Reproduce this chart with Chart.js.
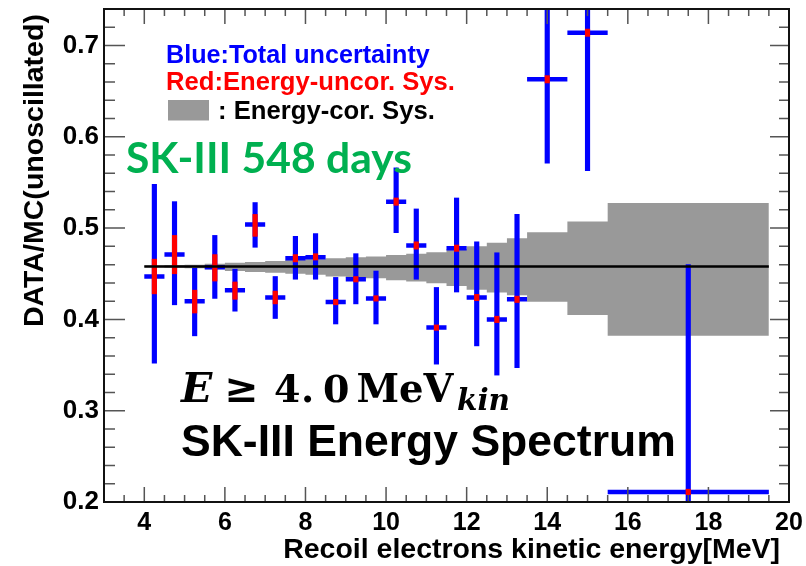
<!DOCTYPE html>
<html lang="en">
<head>
  <meta charset="UTF-8" />
  <title>SK-III Energy Spectrum</title>
  <script src="https://cdn.jsdelivr.net/npm/chart.js"></script>
  <style>
    body {
      margin: 0;
      background: #fff;
    }

    .wrap {
      position: relative;
      width: 806px;
      height: 566px;
    }
  </style>
</head>
<body>
  <div class="wrap"><canvas id="chart"></canvas></div>

  <script>
    // bin centres (MeV) and half bin widths
    const energy = [4.25, 4.75, 5.25, 5.75, 6.25, 6.75, 7.25, 7.75, 8.25, 8.75, 9.25,
                    9.75, 10.25, 10.75, 11.25, 11.75, 12.25, 12.75, 13.25, 14.0, 15.0, 17.5];
    const binHalf = [0.25, 0.25, 0.25, 0.25, 0.25, 0.25, 0.25, 0.25, 0.25, 0.25, 0.25,
                     0.25, 0.25, 0.25, 0.25, 0.25, 0.25, 0.25, 0.25, 0.5, 0.5, 2.0];

    // DATA/MC ratio
    const ratio = [0.447, 0.471, 0.420, 0.457, 0.432, 0.504, 0.424, 0.467, 0.468, 0.419, 0.444,
                   0.423, 0.529, 0.481, 0.391, 0.478, 0.424, 0.400, 0.422, 0.663, 0.714, 0.211];

    // total uncertainty (blue)
    const totalLow  = [0.352, 0.416, 0.382, 0.423, 0.409, 0.479, 0.401, 0.444, 0.444, 0.395, 0.417,
                       0.395, 0.495, 0.444, 0.351, 0.430, 0.371, 0.339, 0.347, 0.571, 0.563, 0.0];
    const totalHigh = [0.548, 0.529, 0.456, 0.492, 0.455, 0.528, 0.447, 0.491, 0.494, 0.446, 0.472,
                       0.453, 0.566, 0.521, 0.435, 0.533, 0.485, 0.473, 0.515, 0.755, 0.865, 0.460];

    // energy-uncorrelated systematics (red)
    const uncorLow  = [0.428, 0.450, 0.407, 0.442, 0.422, 0.491, 0.417, 0.463, 0.465, 0.416, 0.441,
                       0.420, 0.525, 0.477, 0.388, 0.4745, 0.4205, 0.3965, 0.4185, 0.659, 0.710, 0.208];
    const uncorHigh = [0.466, 0.492, 0.432, 0.471, 0.441, 0.515, 0.431, 0.471, 0.472, 0.422, 0.447,
                       0.426, 0.533, 0.485, 0.394, 0.4815, 0.4275, 0.4035, 0.4255, 0.667, 0.718, 0.214];

    // energy-correlated systematics band (grey)
    const bandEdges = [4.0, 4.5, 5.0, 5.5, 6.0, 6.5, 7.0, 7.5, 8.0, 8.5, 9.0, 9.5, 10.0, 10.5,
                       11.0, 11.5, 12.0, 12.5, 13.0, 13.5, 14.5, 15.5, 19.5];
    const bandHigh = [0.459, 0.4595, 0.460, 0.461, 0.462, 0.463, 0.464, 0.465, 0.466, 0.467, 0.468,
                      0.469, 0.4705, 0.472, 0.4735, 0.477, 0.480, 0.484, 0.489, 0.4956, 0.5073, 0.5275];
    const bandLow  = [0.457, 0.4565, 0.456, 0.455, 0.453, 0.452, 0.451, 0.450, 0.449, 0.447, 0.446,
                      0.445, 0.443, 0.4415, 0.4395, 0.4365, 0.4325, 0.4295, 0.4265, 0.4194, 0.4047, 0.382];

    // best fit flat (unoscillated x const) line
    const flatLevel = 0.458;
    const flatFrom = 4.0;
    const flatTo = 19.5;

    const xTicks = [4, 6, 8, 10, 12, 14, 16, 18, 20];
    const yTicks = [0.2, 0.3, 0.4, 0.5, 0.6, 0.7];

    const SANS = '"Liberation Sans", Arial, sans-serif';
    const SERIF = '"DejaVu Serif", serif';

    const bandStep = arr => bandEdges.map((e, i) => ({ x: e, y: arr[Math.min(i, arr.length - 1)] }));

    const hBars = [];
    energy.forEach((e, i) => {
      hBars.push({ x: e - binHalf[i], y: ratio[i] });
      hBars.push({ x: e + binHalf[i], y: ratio[i] });
      hBars.push({ x: e + binHalf[i], y: null });
    });

    function fitFont(ctx, text, weight, family, width) {
      ctx.font = `${weight} 100px ${family}`;
      const size = 100 * width / ctx.measureText(text).width;
      ctx.font = `${weight} ${size}px ${family}`;
    }

    const frame = {
      id: 'frame',
      afterDraw(chart) {
        const { ctx, chartArea: a, scales: { x, y } } = chart;
        ctx.save();

        // ROOT style ticks on all four sides
        ctx.strokeStyle = '#555';
        ctx.lineWidth = 1.5;
        ctx.beginPath();
        for (let i = 0; i <= 34; i++) {
          const v = 3 + 0.5 * i;
          const px = x.getPixelForValue(v);
          const len = v % 2 === 0 ? 15 : 7;
          ctx.moveTo(px, a.bottom); ctx.lineTo(px, a.bottom - len);
          ctx.moveTo(px, a.top); ctx.lineTo(px, a.top + len);
        }
        for (let i = 0; i <= 27; i++) {
          const py = y.getPixelForValue(0.2 + 0.02 * i);
          const major = i % 5 === 0;
          ctx.moveTo(a.left, py); ctx.lineTo(a.left + (major ? 21 : 11), py);
          ctx.moveTo(a.right, py); ctx.lineTo(a.right - (major ? 19 : 10), py);
        }
        ctx.stroke();

        ctx.strokeStyle = '#111';
        ctx.lineWidth = 2;
        ctx.strokeRect(a.left, a.top, a.right - a.left, a.bottom - a.top);

        // legend text
        ctx.textAlign = 'left';
        ctx.textBaseline = 'alphabetic';
        ctx.fillStyle = '#0000ff';
        fitFont(ctx, 'Blue:Total uncertainty', 'bold', SANS, 264);
        ctx.fillText('Blue:Total uncertainty', 166, 62.5);
        ctx.fillStyle = '#ff0000';
        fitFont(ctx, 'Red:Energy-uncor. Sys.', 'bold', SANS, 289);
        ctx.fillText('Red:Energy-uncor. Sys.', 166, 90);
        ctx.fillStyle = '#999999';
        ctx.fillRect(168, 100, 41, 20.5);
        ctx.fillStyle = '#000';
        fitFont(ctx, ': Energy-cor. Sys.', 'bold', SANS, 217);
        ctx.fillText(': Energy-cor. Sys.', 218, 118.5);

        ctx.fillStyle = '#00b050';
        fitFont(ctx, 'SK-III 548 days', 'bold', 'Lato, "Open Sans", sans-serif', 286);
        ctx.fillText('SK-III 548 days', 126, 173);

        // E >= 4.0 MeV_kin
        ctx.fillStyle = '#000';
        ctx.font = `bold italic 41px ${SERIF}`;
        ctx.fillText('E', 181, 401.5);
        ctx.font = `bold 41px ${SERIF}`;
        ctx.textAlign = 'center';
        ctx.fillText('\u2265', 241.5, 401.5);
        ctx.font = `bold 38px ${SERIF}`;
        ctx.textAlign = 'left';
        ctx.fillText('4', 274, 401.5);
        ctx.fillText('.', 301, 401.5);
        ctx.fillText('0', 323, 401.5);
        fitFont(ctx, 'MeV', 'bold', SERIF, 97);
        ctx.fillText('MeV', 356.5, 401.5);
        fitFont(ctx, 'kin', 'bold italic', SERIF, 53);
        ctx.fillText('kin', 457, 410);

        fitFont(ctx, 'SK-III Energy Spectrum', 'bold', SANS, 495);
        ctx.fillText('SK-III Energy Spectrum', 181, 455.5);

        // axis titles
        fitFont(ctx, 'Recoil electrons kinetic energy[MeV]', 'bold', SANS, 497);
        ctx.textAlign = 'right';
        ctx.fillText('Recoil electrons kinetic energy[MeV]', 780, 558);

        ctx.translate(43, 327);
        ctx.rotate(-Math.PI / 2);
        ctx.textAlign = 'left';
        fitFont(ctx, 'DATA/MC(unoscillated)', 'bold', SANS, 313);
        ctx.fillText('DATA/MC(unoscillated)', 0, 0);

        ctx.restore();
      }
    };

    const xFont = { family: SANS, size: 25, weight: 'bold' };
    const yFont = { family: SANS, size: 26, weight: 'bold' };

    const ctx = document.getElementById('chart').getContext('2d');
    const chart = new Chart(ctx, {
      type: 'line',
      data: {
        datasets: [
          {
            label: 'band high', data: bandStep(bandHigh), stepped: 'before',
            borderWidth: 0, pointRadius: 0, backgroundColor: '#999999', fill: '+1', order: 5, clip: 0
          },
          {
            label: 'band low', data: bandStep(bandLow), stepped: 'before',
            borderWidth: 0, pointRadius: 0, fill: false, order: 5, clip: 0
          },
          {
            label: 'flat', data: [{ x: flatFrom, y: flatLevel }, { x: flatTo, y: flatLevel }],
            borderColor: '#000', borderWidth: 2.5, pointRadius: 0, fill: false, order: 0, clip: 0
          },
          {
            label: 'x error', data: hBars, spanGaps: false, borderColor: '#0000ff',
            borderWidth: 4.5, borderCapStyle: 'butt', pointRadius: 0, fill: false, order: 3, clip: 0
          },
          {
            type: 'bar', label: 'total', data: energy.map((e, i) => ({ x: e, y: [totalLow[i], totalHigh[i]] })),
            backgroundColor: '#0000ff', barThickness: 4.5, grouped: false, borderWidth: 0, order: 2, clip: 0
          },
          {
            type: 'bar', label: 'uncor', data: energy.map((e, i) => ({ x: e, y: [uncorLow[i], uncorHigh[i]] })),
            backgroundColor: '#ff0000', barThickness: 4.5, grouped: false, borderWidth: 0, order: 1, clip: 0
          }
        ]
      },
      options: {
        animation: false,
        responsive: true,
        maintainAspectRatio: false,
        events: [],
        layout: { padding: { left: 0, top: 9, right: 17, bottom: 0 } },
        plugins: { legend: { display: false }, tooltip: { enabled: false } },
        scales: {
          x: {
            type: 'linear', min: 3, max: 20, offset: false,
            grid: { display: false, drawTicks: false }, border: { display: false },
            ticks: { font: xFont, color: '#000', padding: 6, maxRotation: 0, autoSkip: false, callback: v => String(v) },
            afterBuildTicks: s => { s.ticks = xTicks.map(v => ({ value: v })); },
            afterFit: s => { s.height = 64; s.paddingLeft = 0; s.paddingRight = 0; }
          },
          y: {
            type: 'linear', min: 0.2, max: 0.74,
            grid: { display: false, drawTicks: false }, border: { display: false },
            ticks: { font: yFont, color: '#000', padding: 5, autoSkip: false, callback: v => v.toFixed(1) },
            afterBuildTicks: s => { s.ticks = yTicks.map(v => ({ value: v })); },
            afterFit: s => { s.width = 104; s.paddingTop = 0; s.paddingBottom = 0; }
          }
        }
      },
      plugins: [frame]
    });
  </script>
</body>
</html>
